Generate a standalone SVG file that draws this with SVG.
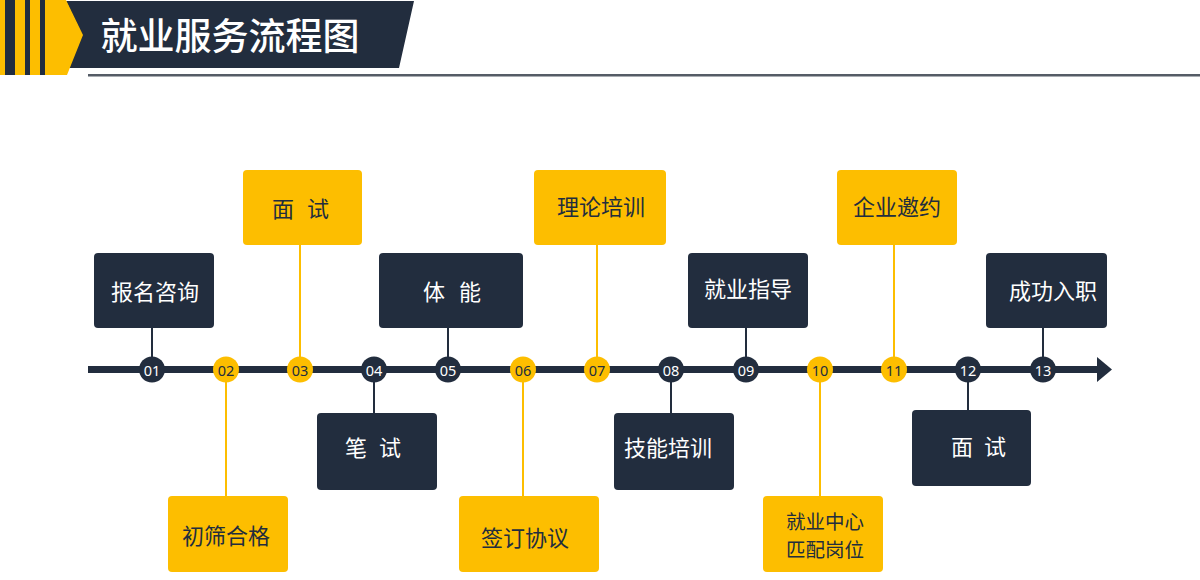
<svg xmlns="http://www.w3.org/2000/svg" width="1200" height="580" viewBox="0 0 1200 580">
<style>
.dk{fill:#222d3e}
.yl{fill:#fdbe00}
.t{font-family:"Noto Sans CJK SC","Noto Sans",sans-serif;font-size:22px;text-anchor:middle;dominant-baseline:central}
.s{font-size:19.5px}
.tw{fill:#ffffff}
.td{fill:#222d3e}
.n{font-family:"Noto Sans","Liberation Sans",sans-serif;font-size:14.5px;text-anchor:middle;dominant-baseline:central}
.cd{stroke:#222d3e;stroke-width:2;fill:none}
.cy{stroke:#fdbe00;stroke-width:2;fill:none}
</style>
<rect width="1200" height="580" fill="#ffffff"/>
<g id="header">
<rect x="0" y="0" width="5" height="75" class="yl"/>
<rect x="5" y="0" width="10" height="75" class="dk"/>
<rect x="15" y="0" width="10" height="75" class="yl"/>
<rect x="25" y="0" width="5" height="75" class="dk"/>
<rect x="30" y="0" width="10" height="75" class="yl"/>
<rect x="40" y="0" width="5" height="75" class="dk"/>
<polygon points="66,1 414,1 399,68 66,68 82,35" class="dk"/>
<polygon points="45,0 66,0 83,35 67,75 45,75" class="yl"/>
<rect x="88" y="74" width="1112" height="2.5" fill="#555c66"/>
<text x="230" y="34" font-family="Noto Sans CJK SC,sans-serif" font-size="37" font-weight="500" fill="#ffffff" text-anchor="middle" dominant-baseline="central">就业服务流程图</text>
</g>
<g id="connectors">
<line x1="88" y1="369.5" x2="1098" y2="369.5" stroke="#222d3e" stroke-width="7"/>
<polygon points="1097,357 1112,369.5 1097,382" class="dk"/>
<line x1="152" y1="328" x2="152" y2="369" class="cd"/>
<line x1="226" y1="369" x2="226" y2="496" class="cy"/>
<line x1="300" y1="245" x2="300" y2="369" class="cy"/>
<line x1="374" y1="369" x2="374" y2="413" class="cd"/>
<line x1="448" y1="328" x2="448" y2="369" class="cd"/>
<line x1="523" y1="369" x2="523" y2="496" class="cy"/>
<line x1="597" y1="245" x2="597" y2="369" class="cy"/>
<line x1="671" y1="369" x2="671" y2="413" class="cd"/>
<line x1="746" y1="328" x2="746" y2="369" class="cd"/>
<line x1="820" y1="369" x2="820" y2="496" class="cy"/>
<line x1="894" y1="245" x2="894" y2="369" class="cy"/>
<line x1="968" y1="369" x2="968" y2="410" class="cd"/>
<line x1="1043" y1="328" x2="1043" y2="369" class="cd"/>
</g>
<g id="markers">
<g id="m01"><circle cx="152" cy="369.5" r="13" class="dk"/><text x="152" y="369.5" class="n tw">01</text></g>
<g id="m02"><circle cx="226" cy="369.5" r="13" class="yl"/><text x="226" y="369.5" class="n td">02</text></g>
<g id="m03"><circle cx="300" cy="369.5" r="13" class="yl"/><text x="300" y="369.5" class="n td">03</text></g>
<g id="m04"><circle cx="374" cy="369.5" r="13" class="dk"/><text x="374" y="369.5" class="n tw">04</text></g>
<g id="m05"><circle cx="448" cy="369.5" r="13" class="dk"/><text x="448" y="369.5" class="n tw">05</text></g>
<g id="m06"><circle cx="523" cy="369.5" r="13" class="yl"/><text x="523" y="369.5" class="n td">06</text></g>
<g id="m07"><circle cx="597" cy="369.5" r="13" class="yl"/><text x="597" y="369.5" class="n td">07</text></g>
<g id="m08"><circle cx="671" cy="369.5" r="13" class="dk"/><text x="671" y="369.5" class="n tw">08</text></g>
<g id="m09"><circle cx="746" cy="369.5" r="13" class="dk"/><text x="746" y="369.5" class="n tw">09</text></g>
<g id="m10"><circle cx="820" cy="369.5" r="13" class="yl"/><text x="820" y="369.5" class="n td">10</text></g>
<g id="m11"><circle cx="894" cy="369.5" r="13" class="yl"/><text x="894" y="369.5" class="n td">11</text></g>
<g id="m12"><circle cx="968" cy="369.5" r="13" class="dk"/><text x="968" y="369.5" class="n tw">12</text></g>
<g id="m13"><circle cx="1043" cy="369.5" r="13" class="dk"/><text x="1043" y="369.5" class="n tw">13</text></g>
</g>
<g id="n01"><rect x="94" y="253" width="120" height="75" rx="4" class="dk"/><text x="155" y="290" class="t tw">报名咨询</text></g>
<g id="n02"><rect x="168" y="496" width="120" height="76" rx="4" class="yl"/><text x="226" y="534" class="t td">初筛合格</text></g>
<g id="n03"><rect x="243" y="170" width="119" height="75" rx="4" class="yl"/><text y="207" class="t td"><tspan x="283">面</tspan><tspan x="318">试</tspan></text></g>
<g id="n04"><rect x="317" y="413" width="120" height="77" rx="4" class="dk"/><text y="446" class="t tw"><tspan x="356">笔</tspan><tspan x="390">试</tspan></text></g>
<g id="n05"><rect x="379" y="253" width="144" height="75" rx="4" class="dk"/><text y="290" class="t tw"><tspan x="434">体</tspan><tspan x="470">能</tspan></text></g>
<g id="n06"><rect x="459" y="496" width="140" height="76" rx="4" class="yl"/><text x="525" y="536" class="t td">签订协议</text></g>
<g id="n07"><rect x="534" y="170" width="132" height="75" rx="4" class="yl"/><text x="601" y="205" class="t td">理论培训</text></g>
<g id="n08"><rect x="614" y="413" width="120" height="77" rx="4" class="dk"/><text x="668" y="446" class="t tw">技能培训</text></g>
<g id="n09"><rect x="688" y="253" width="120" height="75" rx="4" class="dk"/><text x="748" y="287" class="t tw">就业指导</text></g>
<g id="n10"><rect x="763" y="496" width="120" height="76" rx="4" class="yl"/><text class="t s td"><tspan x="825" y="519.7">就业中心</tspan><tspan x="825" y="548.3">匹配岗位</tspan></text></g>
<g id="n11"><rect x="837" y="170" width="120" height="75" rx="4" class="yl"/><text x="897" y="205" class="t td">企业邀约</text></g>
<g id="n12"><rect x="912" y="410" width="119" height="76" rx="4" class="dk"/><text y="445" class="t tw"><tspan x="962">面</tspan><tspan x="995">试</tspan></text></g>
<g id="n13"><rect x="986" y="253" width="121" height="75" rx="4" class="dk"/><text x="1053" y="289" class="t tw">成功入职</text></g>
</svg>
